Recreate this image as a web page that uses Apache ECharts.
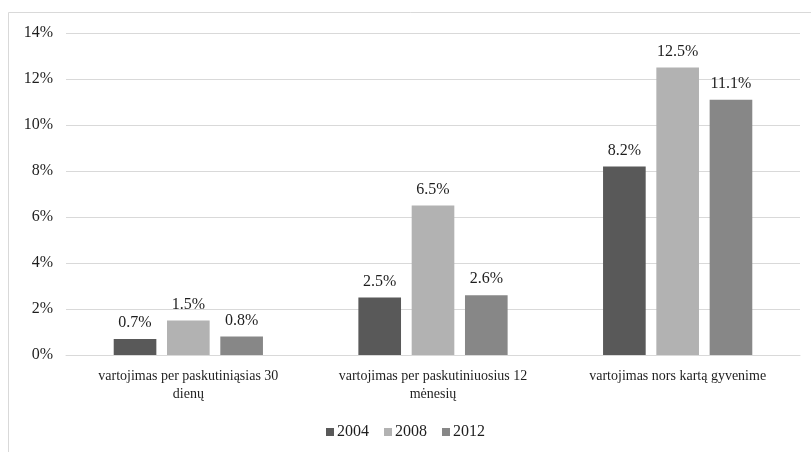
<!DOCTYPE html>
<html><head><meta charset="utf-8">
<script src="https://cdn.jsdelivr.net/npm/echarts@6/dist/echarts.min.js"></script>
<style>html,body{margin:0;padding:0;background:#fff}#c{width:811px;height:452px}</style>
</head><body><div id="c"></div>
<script>
const categories = ['vartojimas per paskutiniąsias 30\ndienų', 'vartojimas per paskutiniuosius 12\nmėnesių', 'vartojimas nors kartą gyvenime'];
const seriesNames = ['2004', '2008', '2012'];
const values2004 = [0.7, 2.5, 8.2];
const values2008 = [1.5, 6.5, 12.5];
const values2012 = [0.8, 2.6, 11.1];
const colors = ['#595959', '#b2b2b2', '#878787'];
const font = '"Liberation Serif", "Times New Roman", serif';
const txt = '#1e1e1e';
const data = [values2004, values2008, values2012];

const chart = echarts.init(document.getElementById('c'));
chart.setOption({
  animation: false,
  textStyle: { fontFamily: font },
  graphic: [{ type: 'rect', shape: { x: 8.5, y: 12.5, width: 900, height: 600 }, style: { fill: 'none', stroke: '#d9d9d9', lineWidth: 1 }, silent: true }],
  grid: { left: 66, right: 11, top: 33, bottom: 97, containLabel: false },
  legend: {
    bottom: 7, left: 'center', itemWidth: 8, itemHeight: 8, itemGap: 15,
    icon: 'rect',
    textStyle: { fontFamily: font, fontSize: 16, color: txt, padding: [0, 0, 0, -2] },
    data: seriesNames
  },
  xAxis: {
    type: 'category', data: categories,
    axisLine: { lineStyle: { color: '#d9d9d9' } },
    axisTick: { show: false },
    axisLabel: { fontFamily: font, fontSize: 14, color: txt, interval: 0, margin: 12, lineHeight: 18 }
  },
  yAxis: {
    type: 'value', min: 0, max: 14, interval: 2,
    axisLine: { show: false }, axisTick: { show: false },
    splitLine: { lineStyle: { color: '#d9d9d9' } },
    axisLabel: { fontFamily: font, fontSize: 16, color: txt, margin: 13, formatter: v => v + '%' }
  },
  series: seriesNames.map((n, i) => ({
    name: n, type: 'bar', data: data[i],
    barGap: '25%', barCategoryGap: '39%',
    itemStyle: { color: colors[i] },
    label: { show: true, position: 'top', distance: 8, fontFamily: font, fontSize: 16, color: txt, formatter: p => p.value.toFixed(1) + '%' }
  }))
});
</script></body></html>
